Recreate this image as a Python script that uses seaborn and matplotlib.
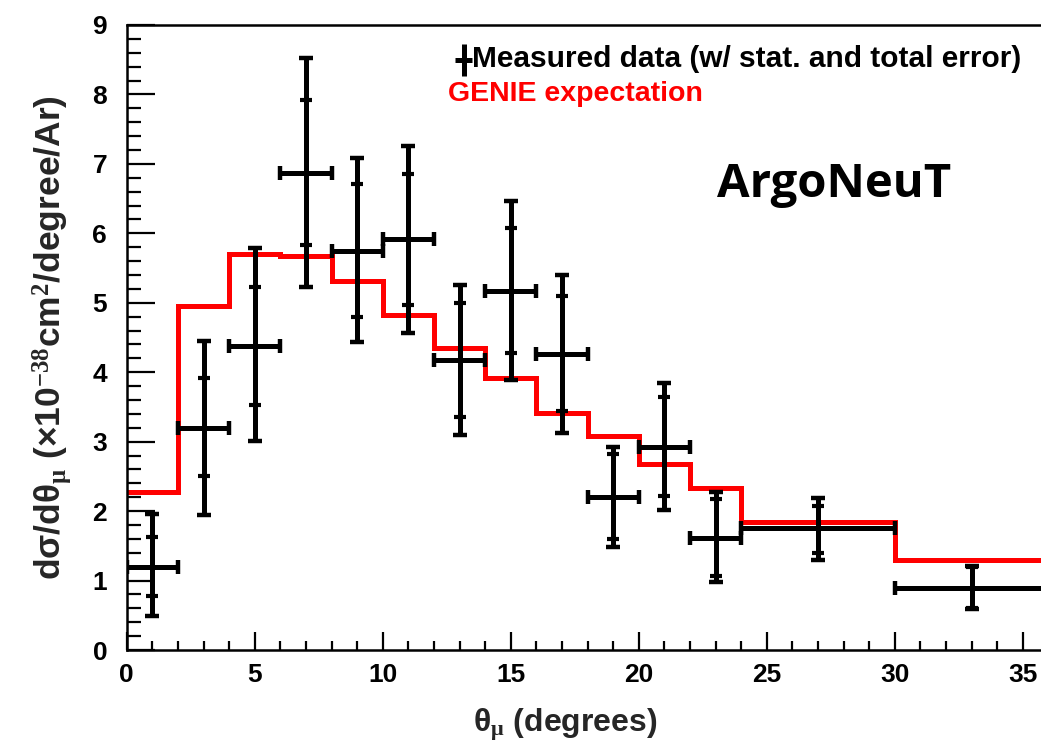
import numpy as np
import pandas as pd
import matplotlib
matplotlib.use("Agg")
import matplotlib.pyplot as plt
import seaborn as sns
from matplotlib.ticker import MultipleLocator

# ---- data ----
bin_lo = [0, 2, 4, 6, 8, 10, 12, 14, 16, 18, 20, 22, 24, 30]
bin_hi = [2, 4, 6, 8, 10, 12, 14, 16, 18, 20, 22, 24, 30, 36]
data_val = [1.20, 3.20, 4.38, 6.87, 5.75, 5.92, 4.17, 5.17, 4.26, 2.20, 2.93, 1.61, 1.75, 0.89]
stat_hi = [1.63, 3.92, 5.23, 7.92, 6.71, 6.86, 4.99, 6.07, 5.10, 2.82, 3.64, 2.18, 2.08, 1.19]
stat_lo = [0.78, 2.50, 3.53, 5.83, 4.80, 4.97, 3.36, 4.28, 3.44, 1.60, 2.22, 1.07, 1.40, 0.61]
tot_hi = [1.96, 4.45, 5.79, 8.53, 7.09, 7.26, 5.25, 6.46, 5.40, 2.93, 3.84, 2.28, 2.19, 1.21]
tot_lo = [0.49, 1.95, 3.01, 5.22, 4.43, 4.56, 3.10, 3.89, 3.13, 1.48, 2.02, 0.98, 1.30, 0.59]
genie = [2.27, 4.96, 5.70, 5.68, 5.32, 4.82, 4.35, 3.91, 3.41, 3.08, 2.68, 2.33, 1.84, 1.29]

x_label = r"θ$_{\mu}$ (degrees)"
y_label = r"dσ/dθ$_{\mu}$ (×10$^{-38}$cm$^{2}$/degree/Ar)"
legend_data = "Measured data (w/ stat. and total error)"
legend_genie = "GENIE expectation"
tag = "ArgoNeuT"

# ---- style ----
sns.set_theme(style="ticks")
plt.rcParams["font.family"] = ["Liberation Sans", "DejaVu Sans"]
plt.rcParams["font.weight"] = "bold"
plt.rcParams["mathtext.fontset"] = "custom"
plt.rcParams["mathtext.rm"] = "Liberation Serif"
plt.rcParams["mathtext.it"] = "Liberation Serif"
plt.rcParams["mathtext.bf"] = "Liberation Sans:bold"
plt.rcParams["mathtext.default"] = "rm"

fig = plt.figure(figsize=(10.41, 7.5), dpi=100)
ax = fig.add_axes([0.1217, 0.1333, 0.8783, 0.8334])

lo = np.array(bin_lo, float)
hi = np.array(bin_hi, float)
cen = (lo + hi) / 2
val = np.array(data_val)

# GENIE step histogram
edges = list(bin_lo) + [bin_hi[-1]]
gdf = pd.DataFrame({"x": edges, "y": list(genie) + [genie[-1]]})
sns.lineplot(data=gdf, x="x", y="y", drawstyle="steps-post", color="#ff0000",
             linewidth=3.6, ax=ax, zorder=2, solid_joinstyle="miter")

# data points: total error
ax.errorbar(cen, val, xerr=[cen - lo, hi - cen],
            yerr=[val - np.array(tot_lo), np.array(tot_hi) - val],
            fmt="none", ecolor="black", elinewidth=3.6, capsize=5, capthick=3.2, zorder=3)
# stat error caps
ax.errorbar(cen, val, yerr=[val - np.array(stat_lo), np.array(stat_hi) - val],
            fmt="none", ecolor="black", elinewidth=3.6, capsize=4.5, capthick=3.0, zorder=3)

ax.set_xlim(0, 35.71)
ax.set_ylim(0, 9)
ax.xaxis.set_major_locator(MultipleLocator(5))
ax.xaxis.set_minor_locator(MultipleLocator(1))
ax.yaxis.set_major_locator(MultipleLocator(1))
ax.yaxis.set_minor_locator(MultipleLocator(0.2))

ax.tick_params(axis="both", which="both", direction="in", colors="black",
               labelsize=19, width=1.6)
ax.tick_params(axis="y", which="major", length=20, pad=14)
ax.tick_params(axis="y", which="minor", length=10)
ax.tick_params(axis="x", which="major", length=13, pad=9)
ax.tick_params(axis="x", which="minor", length=6.5)
for lab in ax.get_xticklabels() + ax.get_yticklabels():
    lab.set_fontweight("bold")

for s in ["left", "bottom", "top"]:
    ax.spines[s].set_linewidth(1.8)
    ax.spines[s].set_color("black")
ax.spines["right"].set_visible(False)

ax.set_xlabel(x_label, fontsize=23, fontweight="bold", labelpad=14, x=0.48)
ax.set_ylabel(y_label, fontsize=25.5, fontweight="bold", labelpad=14, y=0.5)

# legend
ax.errorbar([0.3685], [0.944], xerr=[0.0095], yerr=[0.026], transform=ax.transAxes,
            fmt="none", ecolor="black", elinewidth=3.6, capsize=0, zorder=5, clip_on=False)
ax.text(0.378, 0.946, legend_data, transform=ax.transAxes, fontsize=21.5,
        fontweight="bold", color="black", ha="left", va="center")
ax.text(0.351, 0.889, legend_genie, transform=ax.transAxes, fontsize=20.5,
        fontweight="bold", color="#ff0000", ha="left", va="center")
ax.text(0.646, 0.744, tag, transform=ax.transAxes, fontsize=34,
        fontfamily="Open Sans", fontweight="bold", color="black", ha="left", va="center")

fig.savefig("out.png", dpi=100)
